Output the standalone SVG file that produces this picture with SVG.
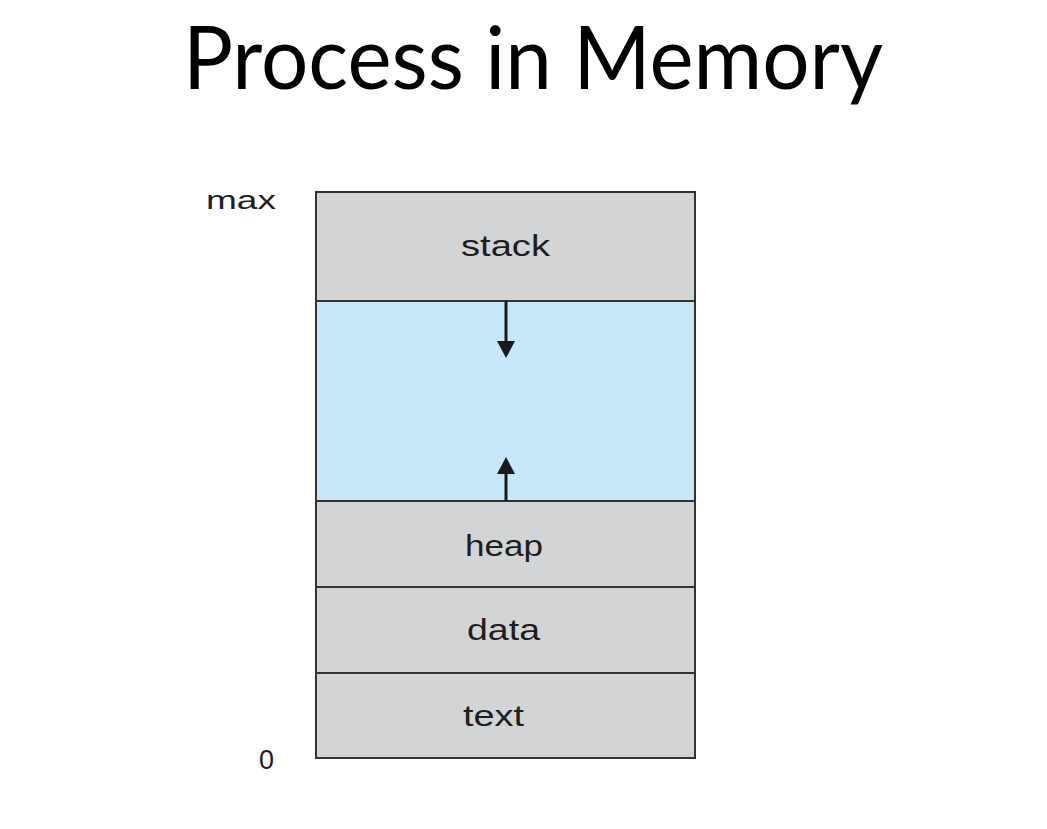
<svg xmlns="http://www.w3.org/2000/svg" width="1047" height="829" viewBox="0 0 1047 829">
<style>
.seg{fill:#d3d4d6;stroke:#333;stroke-width:2}
.free{fill:#c6e8f8;stroke:#333;stroke-width:2}
.lbl{font-family:"Liberation Sans",Arial,sans-serif;font-size:29px;fill:#1e1e1e;text-anchor:start}
.side{font-family:"Liberation Sans",Arial,sans-serif;font-size:26px;fill:#1e1e1e}
.title{font-family:Lato,"Noto Sans",sans-serif;font-size:88px;fill:#000}
.arr{stroke:#1a1a1a;stroke-width:3;fill:none}
.head{fill:#1a1a1a}
</style>
<rect width="1047" height="829" fill="#fff"/>
<text class="title" x="183" y="89" textLength="700" lengthAdjust="spacingAndGlyphs">Process in Memory</text>
<g id="label-max"><text class="side" x="206" y="209" textLength="70" lengthAdjust="spacingAndGlyphs">max</text></g>
<g id="label-0"><text class="side" x="259" y="769" textLength="15" lengthAdjust="spacingAndGlyphs" style="font-size:27px">0</text></g>
<g id="stack"><rect class="seg" x="316" y="192" width="379" height="109"/><text class="lbl" x="461" y="256" textLength="89" lengthAdjust="spacingAndGlyphs">stack</text></g>
<g id="free"><rect class="free" x="316" y="301" width="379" height="200"/></g>
<g id="heap"><rect class="seg" x="316" y="501" width="379" height="86"/><text class="lbl" x="465" y="556" textLength="78" lengthAdjust="spacingAndGlyphs">heap</text></g>
<g id="data"><rect class="seg" x="316" y="587" width="379" height="86"/><text class="lbl" x="467" y="640" textLength="73" lengthAdjust="spacingAndGlyphs">data</text></g>
<g id="text"><rect class="seg" x="316" y="673" width="379" height="85"/><text class="lbl" x="463" y="726" textLength="61" lengthAdjust="spacingAndGlyphs">text</text></g>
<g id="connectors">
<line class="arr" x1="506" y1="301" x2="506" y2="346"/>
<path class="head" d="M497,341 L515,341 L506,358 Z"/>
<line class="arr" x1="506" y1="501" x2="506" y2="468"/>
<path class="head" d="M497,474 L515,474 L506,457 Z"/>
</g>
</svg>
